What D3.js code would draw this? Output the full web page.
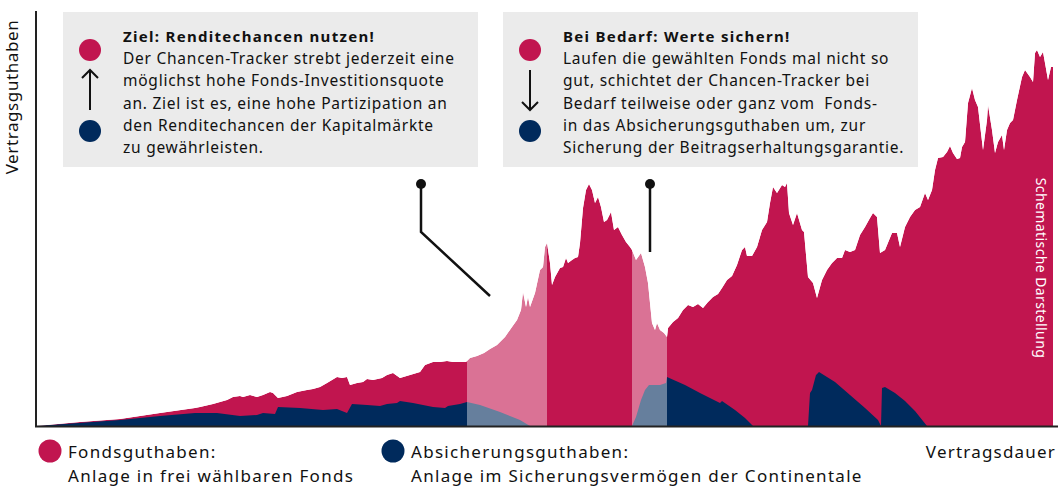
<!DOCTYPE html>
<html>
<head>
<meta charset="utf-8">
<script src="https://cdn.jsdelivr.net/npm/d3@7"></script>
<style>
  html, body { margin: 0; padding: 0; background: #fff; }
  svg { display: block; font-family: "Noto Sans", "Open Sans", sans-serif; }
</style>
</head>
<body>
<div id="chart"></div>
<script>
// Schematic: Fondsguthaben (total) and Absicherungsguthaben over Vertragsdauer.
// t = contract time step, v = Guthaben (schematic units)
const FONDS = [
  [0,0],[44,4],[84,7],[124,13],[159,18],[164,19],[177,22],[191,26],[197,29],[204,30],
  [207,29],[214,31],[221,29],[227,31],[234,34],[237,33],[242,28],[251,30],[261,34],[271,36],
  [277,37],[284,39],[291,43],[296,46],[301,49],[306,48],[311,49],[314,41],[321,43],[327,44],
  [331,47],[337,46],[346,48],[351,51],[357,53],[364,48],[374,51],[384,54],[389,61],[397,64],
  [404,64],[411,65],[417,64],[424,64],[430,64],[434,68],[441,70],[448,73],[454,77],[461,81],
  [469,89],[476,99],[481,106],[485,116],[487,134],[490,119],[492,129],[494,119],[499,133],[504,156],
  [507,159],[509,179],[511,183],[514,163],[516,141],[519,149],[524,158],[527,159],[530,168],[532,163],
  [536,166],[539,168],[542,169],[544,183],[547,218],[550,236],[553,242],[556,236],[559,223],[562,229],
  [565,219],[568,204],[571,206],[575,214],[578,196],[582,199],[586,191],[590,184],[594,179],[596,176],
  [600,166],[605,173],[609,159],[612,143],[616,103],[619,96],[621,103],[624,96],[628,93],[631,89],
  [632,98],[637,104],[642,108],[647,116],[652,121],[657,119],[662,122],[667,118],[672,124],[677,129],
  [682,132],[686,138],[691,146],[696,150],[701,161],[706,176],[709,179],[711,170],[716,170],[721,179],
  [726,196],[731,204],[734,223],[737,239],[741,233],[746,241],[749,239],[751,243],[753,213],[757,201],
  [761,213],[766,196],[768,194],[772,149],[777,143],[781,128],[786,146],[791,156],[796,163],[801,168],
  [806,168],[809,176],[814,174],[819,176],[824,191],[829,199],[834,208],[837,213],[841,209],[844,173],
  [849,176],[856,193],[861,193],[864,179],[869,199],[874,209],[879,216],[884,219],[889,233],[892,226],
  [896,236],[899,256],[902,268],[907,269],[911,274],[914,280],[917,273],[921,267],[924,268],[926,279],
  [929,284],[932,323],[936,338],[939,326],[942,319],[945,293],[947,276],[951,306],[952,321],[956,296],
  [959,273],[962,284],[966,291],[968,276],[971,296],[974,303],[977,306],[981,326],[986,349],[989,356],
  [994,349],[997,344],[999,373],[1001,376],[1004,369],[1007,374],[1009,363],[1012,346],[1015,359],[1017,359]
];

const ABSICHERUNG = [
  [0,0],[84,6],[124,10],[159,13],[181,13],[204,10],[221,11],[227,13],[239,12],[242,19],
  [264,18],[287,16],[301,17],[311,13],[316,22],[331,21],[344,20],[351,22],[361,23],[364,25],
  [377,23],[397,19],[409,18],[412,20],[424,22],[431,24],[444,21],[464,14],[484,6],[494,0],
  [596,0],[600,9],[605,26],[609,36],[613,41],[624,41],[630,43],[631,49],[649,41],[664,33],
  [684,23],[686,25],[699,16],[709,8],[717,0],[772,0],[774,33],[776,36],[780,51],[783,54],
  [799,44],[814,31],[829,18],[842,6],[845,0],[846,38],[849,39],[859,33],[869,25],[879,15],
  [891,0],[1017,0]
];

// zones where the Chancen-Tracker is shifting between the two pots
const SHIFT_ZONES = [[431, 511], [596, 631]];

const Y_LABEL = 'Vertragsguthaben';
const X_LABEL = 'Vertragsdauer';
const SIDE_NOTE = 'Schematische Darstellung';

const BOX_UP_TITLE = 'Ziel: Renditechancen nutzen!';
const BOX_UP_LINES = [
  'Der Chancen-Tracker strebt jederzeit eine',
  'möglichst hohe Fonds-Investitionsquote',
  'an. Ziel ist es, eine hohe Partizipation an',
  'den Renditechancen der Kapitalmärkte',
  'zu gewährleisten.'
];
const BOX_DOWN_TITLE = 'Bei Bedarf: Werte sichern!';
const BOX_DOWN_LINES = [
  'Laufen die gewählten Fonds mal nicht so',
  'gut, schichtet der Chancen-Tracker bei',
  'Bedarf teilweise oder ganz vom  Fonds-',
  'in das Absicherungsguthaben um, zur',
  'Sicherung der Beitragserhaltungsgarantie.'
];

const LEGEND = [
  { key: 'fonds', lines: ['Fondsguthaben:', 'Anlage in frei wählbaren Fonds'] },
  { key: 'absicherung', lines: ['Absicherungsguthaben:', 'Anlage im Sicherungsvermögen der Continentale'] }
];

const COLORS = { fonds: '#C1154F', absicherung: '#002A5C' };
const WIDTH = 1058;
const HEIGHT = 488;
const PLOT = { left: 36, right: 1058, top: 11, bottom: 426 };

const svg = d3.select('#chart').append('svg')
  .attr('width', WIDTH)
  .attr('height', HEIGHT);

const x = d3.scaleLinear().domain([0, 1022]).range([PLOT.left, PLOT.right]);
const y = d3.scaleLinear().domain([0, 415]).range([PLOT.bottom, PLOT.top]);

const area = d3.area()
  .x((d) => x(d[0]))
  .y0(y(0))
  .y1((d) => y(d[1]));

svg.append('path')
  .datum(FONDS)
  .attr('d', area)
  .attr('fill', COLORS.fonds);

svg.append('path')
  .datum(ABSICHERUNG)
  .attr('d', area)
  .attr('fill', COLORS.absicherung);

// light veil over the shifting zones
svg.append('g')
  .selectAll('rect')
  .data(SHIFT_ZONES)
  .join('rect')
  .attr('x', (d) => x(d[0]))
  .attr('width', (d) => x(d[1]) - x(d[0]))
  .attr('y', y(415))
  .attr('height', y(0) - y(415))
  .attr('fill', '#fff')
  .attr('opacity', 0.4);

// white above the curve so only the area part is lightened
const above = d3.area()
  .x((d) => x(d[0]))
  .y0(y(415))
  .y1((d) => y(d[1]));
svg.append('path')
  .datum(FONDS)
  .attr('d', above)
  .attr('fill', '#fff');

// axes (plain lines, no ticks)
svg.append('line')
  .attr('x1', x(0)).attr('x2', x(0))
  .attr('y1', PLOT.top).attr('y2', PLOT.bottom + 1)
  .attr('stroke', '#222').attr('stroke-width', 2);
svg.append('line')
  .attr('x1', x(0) - 1).attr('x2', PLOT.right)
  .attr('y1', PLOT.bottom + 0.5).attr('y2', PLOT.bottom + 0.5)
  .attr('stroke', '#222').attr('stroke-width', 2);

svg.append('text')
  .attr('transform', `translate(18,${97}) rotate(-90)`)
  .attr('text-anchor', 'middle')
  .attr('font-size', '17px')
  .attr('letter-spacing', '0.6px')
  .attr('fill', '#111')
  .text(Y_LABEL);

svg.append('text')
  .attr('x', 1056)
  .attr('y', 458)
  .attr('text-anchor', 'end')
  .attr('font-size', '17px')
  .attr('letter-spacing', '1.2px')
  .attr('fill', '#111')
  .text(X_LABEL);

svg.append('text')
  .attr('transform', `translate(1036,${268}) rotate(90)`)
  .attr('text-anchor', 'middle')
  .attr('font-size', '14px')
  .attr('letter-spacing', '0.4px')
  .attr('fill', '#fff')
  .text(SIDE_NOTE);

// annotation boxes
function drawBox(bx, title, lines, direction) {
  const g = svg.append('g').attr('transform', `translate(${bx},12)`);
  g.append('rect')
    .attr('width', 415)
    .attr('height', 155)
    .attr('fill', '#EBEBEB');

  g.append('circle').attr('cx', 27).attr('cy', 38).attr('r', 11).attr('fill', COLORS.fonds);
  g.append('circle').attr('cx', 27).attr('cy', 119).attr('r', 11).attr('fill', COLORS.absicherung);

  const ay1 = 58, ay2 = 98;
  const tipY = direction === 'up' ? ay1 : ay2;
  const s = direction === 'up' ? 1 : -1;
  g.append('line')
    .attr('x1', 27).attr('x2', 27)
    .attr('y1', ay1).attr('y2', ay2)
    .attr('stroke', '#111').attr('stroke-width', 2);
  g.append('path')
    .attr('d', `M${27 - 8},${tipY + s * 8} L27,${tipY} L${27 + 8},${tipY + s * 8}`)
    .attr('fill', 'none')
    .attr('stroke', '#111')
    .attr('stroke-width', 2);

  g.append('text')
    .attr('x', 60).attr('y', 30)
    .attr('font-size', '15px')
    .attr('font-weight', 'bold')
    .attr('letter-spacing', '1.3px')
    .attr('fill', '#111')
    .text(title);

  g.selectAll('text.line')
    .data(lines)
    .join('text')
    .attr('class', 'line')
    .attr('x', 60)
    .attr('y', (d, i) => 52 + i * 22.3)
    .attr('font-size', '15.5px')
    .attr('letter-spacing', '0.75px')
    .style('white-space', 'pre')
    .attr('fill', '#111')
    .text((d) => d);
}

drawBox(63, BOX_UP_TITLE, BOX_UP_LINES, 'up');
drawBox(503, BOX_DOWN_TITLE, BOX_DOWN_LINES, 'down');

// connectors from boxes to the shifting zones
const conn = svg.append('g').attr('stroke', '#111').attr('stroke-width', 2.5).attr('fill', 'none');
conn.append('path').attr('d', 'M421,184 L421,232 L490,296');
conn.append('path').attr('d', 'M650,184 L650,252');
svg.append('circle').attr('cx', 421).attr('cy', 184).attr('r', 5).attr('fill', '#111');
svg.append('circle').attr('cx', 650).attr('cy', 184).attr('r', 5).attr('fill', '#111');

// legend
const legendX = [50, 393];
LEGEND.forEach((item, i) => {
  const g = svg.append('g').attr('transform', `translate(${legendX[i]},451)`);
  g.append('circle').attr('r', 11.5).attr('fill', COLORS[item.key]);
  g.selectAll('text')
    .data(item.lines)
    .join('text')
    .attr('x', 18)
    .attr('y', (d, j) => 7 + j * 24)
    .attr('font-size', '17px')
    .attr('letter-spacing', '1.3px')
    .attr('fill', '#111')
    .text((d) => d);
});
</script>
</body>
</html>
